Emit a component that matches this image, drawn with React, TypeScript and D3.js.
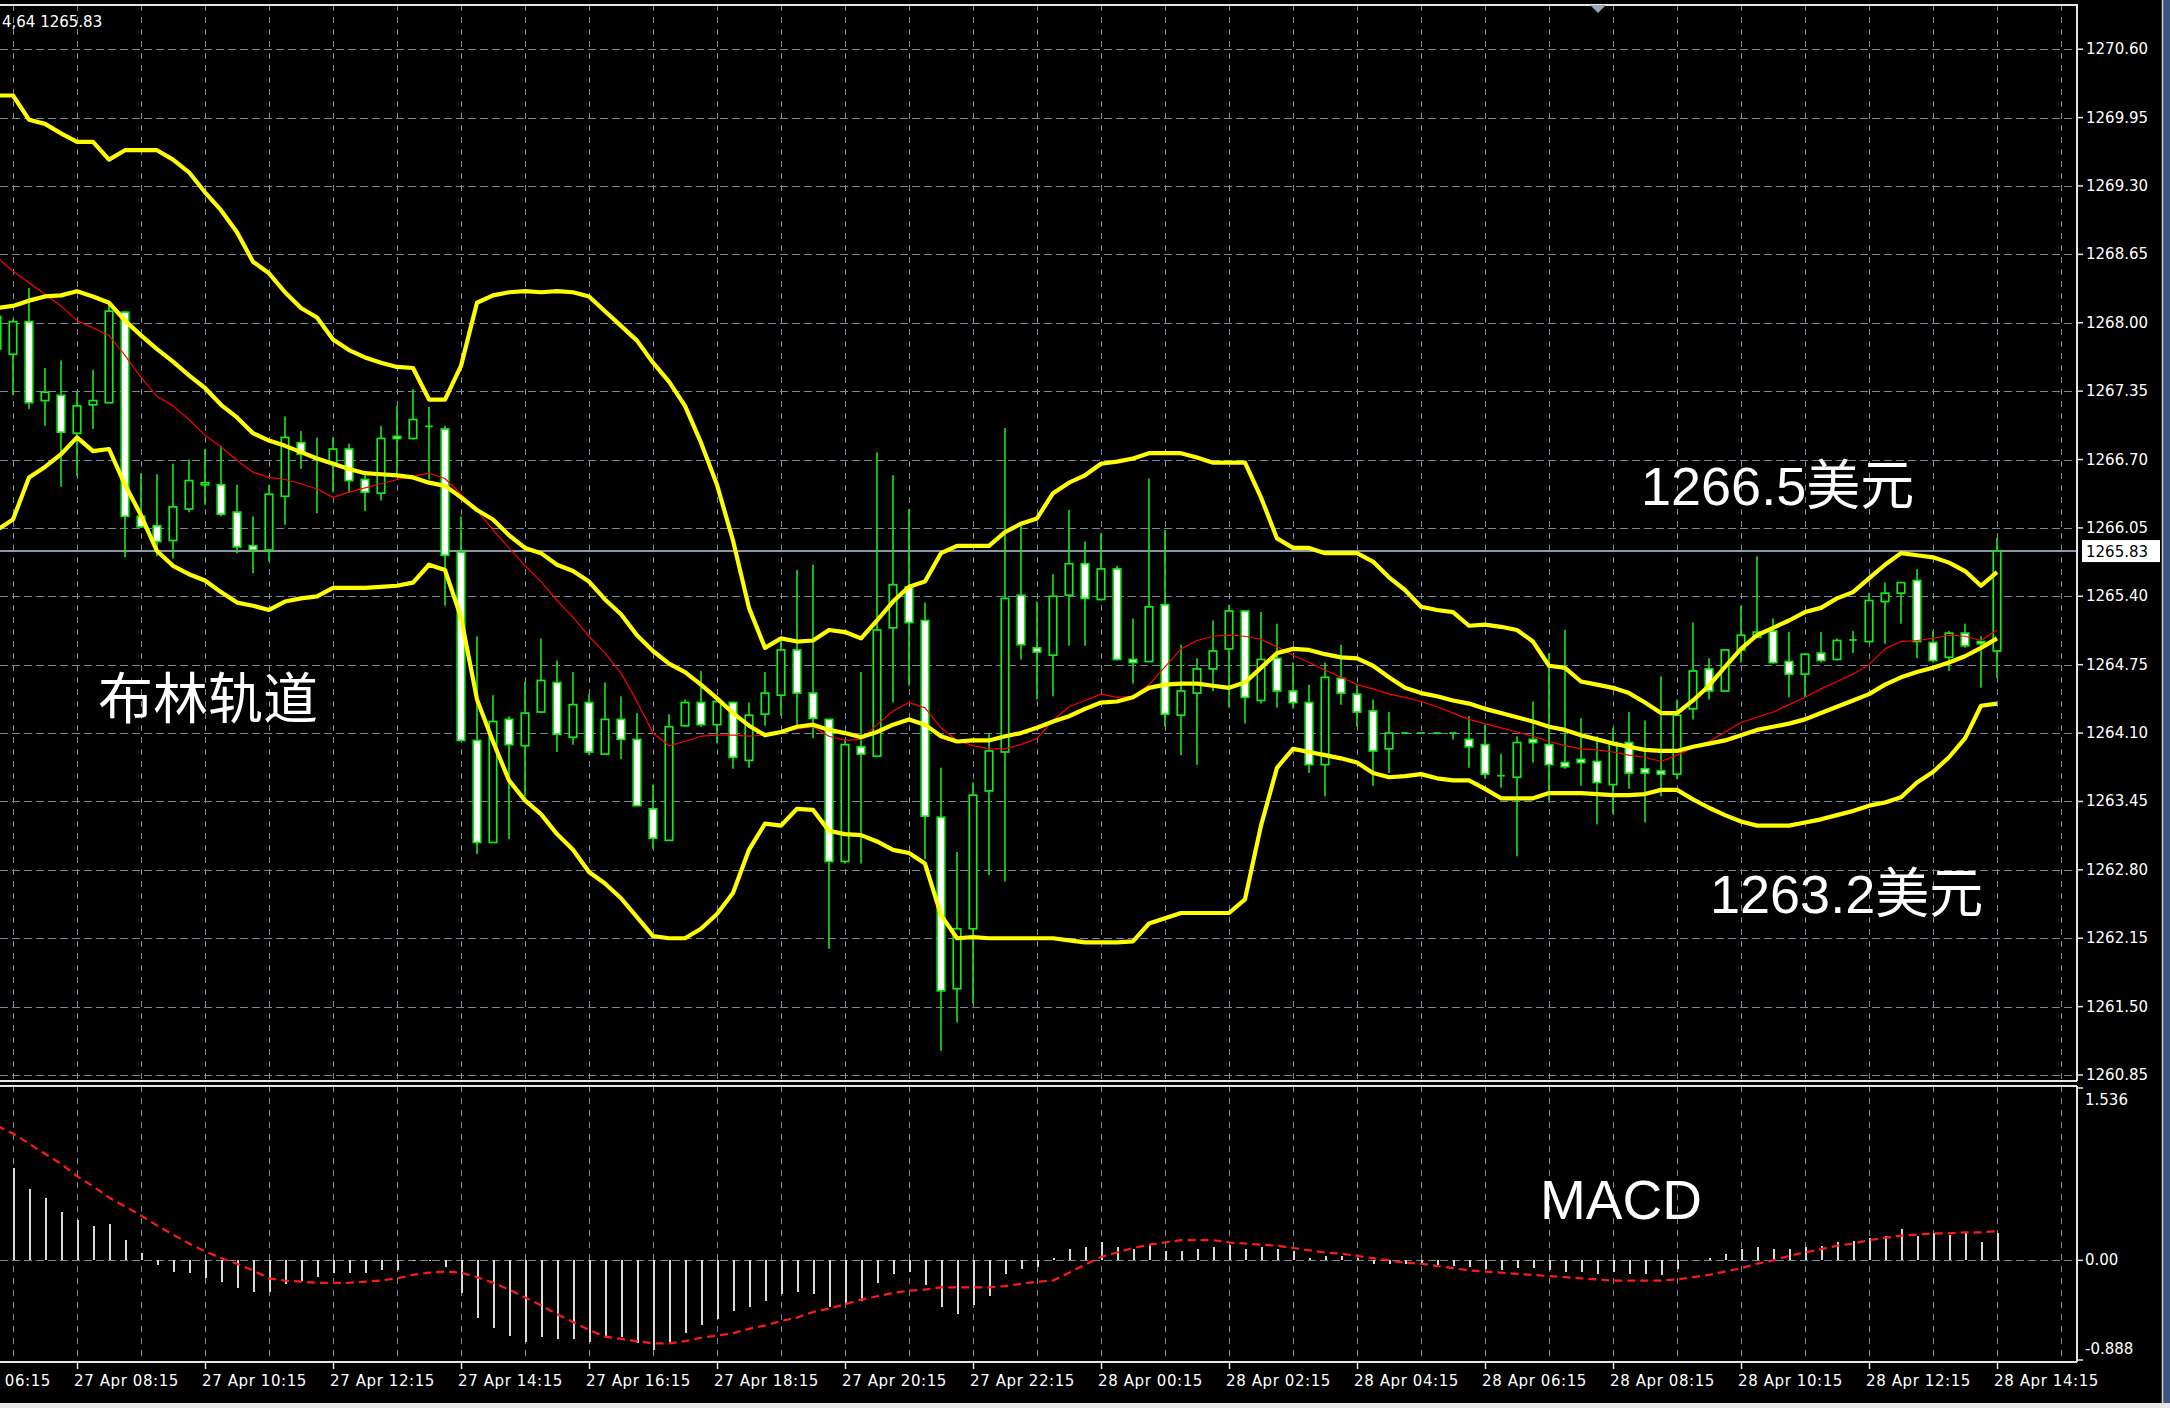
import React, { useEffect } from 'react';
import * as d3 from 'd3';

// ---------- DATA (XAUUSD M15, bars from index -5 .. 120; index 0 = 27 Apr 08:15) ----------
const FIRST_BAR = -5;

const opens = [
  1267.75, 1267.70, 1268.01, 1267.26, 1267.31, 1266.95, 1267.22, 1267.24, 1268.10, 1266.16,
  1266.07, 1265.93, 1266.23, 1266.46, 1266.46, 1266.20, 1265.88, 1265.84, 1266.35, 1266.86,
  1266.71, 1266.67, 1266.80, 1266.51, 1266.38, 1266.92, 1266.90, 1267.02, 1266.99, 1265.82,
  1264.03, 1263.06, 1264.23, 1263.98, 1264.30, 1264.58, 1264.06, 1264.39, 1263.90, 1264.23,
  1264.04, 1263.38, 1263.08, 1264.17, 1264.39, 1264.18, 1264.39, 1263.84, 1264.28, 1264.46,
  1264.89, 1264.48, 1264.23, 1262.88, 1263.97, 1263.88, 1265.10, 1265.49, 1265.17, 1263.30,
  1261.67, 1262.24, 1263.55, 1263.92, 1265.41, 1264.91, 1264.84, 1265.41, 1265.71, 1265.37,
  1265.66, 1264.80, 1264.78, 1265.32, 1264.27, 1264.48, 1264.71, 1264.90, 1265.26, 1264.41,
  1264.81, 1264.50, 1264.39, 1263.80, 1264.62, 1264.47, 1264.31, 1263.95, 1264.10, 1264.10,
  1264.10, 1264.10, 1264.04, 1263.99, 1263.70, 1263.68, 1264.04, 1263.99, 1263.82, 1263.85,
  1263.83, 1263.61, 1264.01, 1263.76, 1263.74, 1263.71, 1264.33, 1264.71, 1264.50, 1264.89,
  1265.01, 1265.07, 1264.78, 1264.66, 1264.86, 1264.80, 1264.98, 1264.97, 1265.35, 1265.43,
  1265.55, 1264.96, 1264.82, 1265.05, 1264.97, 1264.88,
];
const highs = [
  1268.16, 1268.03, 1268.33, 1267.57, 1267.64, 1267.34, 1267.55, 1268.21, 1268.11, 1266.57,
  1266.56, 1266.66, 1266.70, 1266.80, 1266.83, 1266.46, 1266.16, 1266.46, 1267.11, 1266.97,
  1266.91, 1266.91, 1266.85, 1266.59, 1267.02, 1267.21, 1267.37, 1267.20, 1267.02, 1266.16,
  1265.02, 1264.46, 1264.26, 1264.59, 1265.00, 1264.79, 1264.68, 1264.47, 1264.58, 1264.45,
  1264.29, 1263.61, 1264.28, 1264.42, 1264.69, 1264.42, 1264.40, 1264.39, 1264.68, 1264.98,
  1265.65, 1265.70, 1264.23, 1264.04, 1264.68, 1266.77, 1266.55, 1266.23, 1265.34, 1263.77,
  1262.97, 1263.63, 1264.10, 1267.00, 1266.07, 1265.35, 1265.61, 1266.22, 1265.92, 1266.00,
  1265.69, 1265.19, 1266.52, 1266.03, 1264.94, 1264.81, 1265.17, 1265.32, 1265.26, 1265.25,
  1265.14, 1264.77, 1264.56, 1264.77, 1264.94, 1264.56, 1264.42, 1264.30, 1264.10, 1264.10,
  1264.10, 1264.10, 1264.26, 1264.18, 1263.90, 1264.07, 1264.40, 1264.86, 1265.08, 1264.24,
  1264.07, 1264.15, 1264.30, 1264.22, 1264.64, 1264.42, 1265.15, 1264.81, 1264.89, 1265.31,
  1265.78, 1265.19, 1265.06, 1264.85, 1265.06, 1265.00, 1265.07, 1265.43, 1265.53, 1265.53,
  1265.66, 1265.07, 1265.07, 1265.14, 1265.02, 1265.96,
];
const lows = [
  1267.70, 1267.31, 1267.18, 1267.02, 1266.44, 1266.54, 1266.99, 1267.24, 1265.77, 1266.05,
  1265.78, 1265.76, 1266.20, 1266.27, 1266.16, 1265.81, 1265.62, 1265.73, 1266.08, 1266.61,
  1266.19, 1266.39, 1266.39, 1266.21, 1266.31, 1266.56, 1266.89, 1266.51, 1265.31, 1264.03,
  1262.95, 1263.06, 1263.09, 1263.50, 1264.29, 1263.92, 1263.99, 1263.89, 1263.90, 1263.85,
  1263.41, 1263.00, 1263.08, 1264.16, 1264.16, 1264.00, 1263.76, 1263.77, 1264.17, 1264.26,
  1264.18, 1264.05, 1262.05, 1262.86, 1262.86, 1263.87, 1264.39, 1264.55, 1262.90, 1261.08,
  1261.35, 1261.53, 1262.75, 1262.69, 1264.80, 1264.42, 1264.45, 1264.93, 1264.93, 1265.36,
  1264.79, 1264.57, 1264.78, 1264.16, 1263.89, 1263.80, 1264.50, 1264.34, 1264.19, 1264.38,
  1264.34, 1264.33, 1263.72, 1263.50, 1264.37, 1264.16, 1263.60, 1263.72, 1264.10, 1264.10,
  1264.10, 1264.04, 1263.77, 1263.67, 1263.58, 1262.93, 1263.82, 1263.46, 1263.76, 1263.60,
  1263.23, 1263.33, 1263.57, 1263.25, 1263.50, 1263.66, 1264.23, 1264.42, 1264.50, 1264.77,
  1265.01, 1264.76, 1264.44, 1264.44, 1264.77, 1264.79, 1264.86, 1264.97, 1264.95, 1265.14,
  1264.81, 1264.77, 1264.69, 1264.91, 1264.53, 1264.62,
];
const closes = [
  1268.06, 1268.01, 1267.24, 1267.34, 1266.96, 1267.21, 1267.26, 1268.11, 1266.16, 1266.06,
  1265.92, 1266.25, 1266.50, 1266.48, 1266.18, 1265.87, 1265.84, 1266.37, 1266.91, 1266.75,
  1266.70, 1266.80, 1266.50, 1266.39, 1266.90, 1266.90, 1267.08, 1267.01, 1265.79, 1264.03,
  1263.06, 1264.21, 1263.99, 1264.29, 1264.60, 1264.09, 1264.37, 1263.92, 1264.23, 1264.04,
  1263.41, 1263.10, 1264.16, 1264.39, 1264.18, 1264.40, 1263.87, 1264.27, 1264.48, 1264.89,
  1264.48, 1264.24, 1262.88, 1263.99, 1263.90, 1265.08, 1265.51, 1265.15, 1263.31, 1261.65,
  1262.24, 1263.51, 1263.93, 1265.38, 1264.94, 1264.87, 1265.40, 1265.71, 1265.38, 1265.66,
  1264.80, 1264.77, 1265.30, 1264.28, 1264.50, 1264.71, 1264.88, 1265.26, 1264.44, 1264.80,
  1264.50, 1264.39, 1263.80, 1264.63, 1264.48, 1264.30, 1263.93, 1264.10, 1264.10, 1264.10,
  1264.10, 1264.10, 1263.97, 1263.71, 1263.69, 1264.01, 1264.01, 1263.80, 1263.78, 1263.82,
  1263.63, 1264.01, 1263.72, 1263.72, 1263.71, 1264.27, 1264.69, 1264.50, 1264.89, 1265.03,
  1265.06, 1264.77, 1264.66, 1264.85, 1264.79, 1264.98, 1264.99, 1265.36, 1265.43, 1265.53,
  1264.97, 1264.79, 1265.05, 1264.93, 1264.95, 1265.83,
];

const bbUpper = [
  1270.16, 1270.16, 1269.93, 1269.89, 1269.80, 1269.72, 1269.72, 1269.55, 1269.64, 1269.64,
  1269.64, 1269.55, 1269.43, 1269.24, 1269.07, 1268.86, 1268.58, 1268.47, 1268.29, 1268.14,
  1268.05, 1267.84, 1267.74, 1267.67, 1267.62, 1267.58, 1267.57, 1267.27, 1267.27, 1267.59,
  1268.19, 1268.26, 1268.29, 1268.30, 1268.29, 1268.30, 1268.29, 1268.25, 1268.11, 1267.97,
  1267.83, 1267.62, 1267.44, 1267.21, 1266.86, 1266.46, 1265.93, 1265.29, 1264.91, 1265.00,
  1264.97, 1264.98, 1265.08, 1265.06, 1265.00, 1265.17, 1265.35, 1265.49, 1265.54, 1265.81,
  1265.88, 1265.88, 1265.88, 1266.01, 1266.09, 1266.14, 1266.38, 1266.48, 1266.55, 1266.66,
  1266.68, 1266.71, 1266.76, 1266.76, 1266.76, 1266.72, 1266.67, 1266.67, 1266.67, 1266.34,
  1265.95, 1265.86, 1265.86, 1265.81, 1265.81, 1265.81, 1265.73, 1265.58, 1265.46, 1265.30,
  1265.27, 1265.25, 1265.12, 1265.13, 1265.11, 1265.08, 1264.97, 1264.74, 1264.72, 1264.59,
  1264.56, 1264.53, 1264.48, 1264.39, 1264.29, 1264.29, 1264.41, 1264.55, 1264.73, 1264.90,
  1265.03, 1265.10, 1265.17, 1265.25, 1265.29, 1265.38, 1265.44, 1265.57, 1265.70, 1265.81,
  1265.79, 1265.77, 1265.72, 1265.64, 1265.50, 1265.63,
];
const bbMiddle = [
  1268.14, 1268.16, 1268.21, 1268.25, 1268.26, 1268.30, 1268.25, 1268.19, 1268.02, 1267.88,
  1267.75, 1267.63, 1267.50, 1267.38, 1267.22, 1267.10, 1266.95, 1266.88, 1266.83, 1266.77,
  1266.71, 1266.66, 1266.61, 1266.57, 1266.56, 1266.55, 1266.53, 1266.48, 1266.45, 1266.34,
  1266.22, 1266.13, 1265.98, 1265.86, 1265.81, 1265.70, 1265.64, 1265.54, 1265.37, 1265.23,
  1265.03, 1264.88, 1264.76, 1264.68, 1264.56, 1264.43, 1264.29, 1264.17, 1264.08, 1264.11,
  1264.16, 1264.18, 1264.13, 1264.10, 1264.06, 1264.11, 1264.18, 1264.23, 1264.18, 1264.07,
  1264.02, 1264.03, 1264.03, 1264.07, 1264.10, 1264.15, 1264.21, 1264.26, 1264.33, 1264.39,
  1264.40, 1264.44, 1264.53, 1264.56, 1264.57, 1264.57, 1264.55, 1264.53, 1264.58, 1264.72,
  1264.86, 1264.90, 1264.89, 1264.85, 1264.82, 1264.81, 1264.74, 1264.63, 1264.53, 1264.48,
  1264.45, 1264.41, 1264.38, 1264.33, 1264.29, 1264.25, 1264.21, 1264.16, 1264.13, 1264.08,
  1264.04, 1264.00, 1263.97, 1263.94, 1263.93, 1263.93, 1263.97, 1264.00, 1264.03, 1264.08,
  1264.13, 1264.16, 1264.19, 1264.23, 1264.29, 1264.35, 1264.41, 1264.47, 1264.56, 1264.63,
  1264.68, 1264.72, 1264.77, 1264.83, 1264.91, 1265.00,
];
const bbLower = [
  1266.03, 1266.13, 1266.53, 1266.63, 1266.75, 1266.91, 1266.78, 1266.80, 1266.46, 1266.17,
  1265.83, 1265.69, 1265.61, 1265.55, 1265.44, 1265.34, 1265.31, 1265.27, 1265.35, 1265.38,
  1265.40, 1265.48, 1265.48, 1265.48, 1265.49, 1265.50, 1265.53, 1265.70, 1265.65, 1265.20,
  1264.42, 1264.02, 1263.65, 1263.46, 1263.33, 1263.14, 1262.99, 1262.78, 1262.67, 1262.53,
  1262.35, 1262.17, 1262.15, 1262.15, 1262.24, 1262.38, 1262.58, 1262.99, 1263.24, 1263.22,
  1263.38, 1263.37, 1263.17, 1263.14, 1263.13, 1263.07, 1262.99, 1262.96, 1262.86, 1262.37,
  1262.15, 1262.16, 1262.15, 1262.15, 1262.15, 1262.15, 1262.15, 1262.13, 1262.11, 1262.11,
  1262.11, 1262.12, 1262.29, 1262.34, 1262.39, 1262.39, 1262.39, 1262.39, 1262.52, 1263.22,
  1263.77, 1263.95, 1263.92, 1263.89, 1263.86, 1263.82, 1263.72, 1263.68, 1263.69, 1263.71,
  1263.67, 1263.65, 1263.65, 1263.57, 1263.48, 1263.48, 1263.48, 1263.53, 1263.53, 1263.53,
  1263.52, 1263.51, 1263.51, 1263.52, 1263.56, 1263.56, 1263.47, 1263.39, 1263.32, 1263.26,
  1263.22, 1263.22, 1263.22, 1263.25, 1263.28, 1263.32, 1263.36, 1263.41, 1263.44, 1263.49,
  1263.63, 1263.73, 1263.87, 1264.05, 1264.36, 1264.38,
];
const maRed = [
  1268.62, 1268.49, 1268.38, 1268.27, 1268.16, 1268.02, 1267.95, 1267.88, 1267.69, 1267.48,
  1267.30, 1267.21, 1267.08, 1266.93, 1266.82, 1266.69, 1266.58, 1266.53, 1266.51, 1266.47,
  1266.42, 1266.34, 1266.39, 1266.43, 1266.47, 1266.51, 1266.54, 1266.57, 1266.52, 1266.37,
  1266.22, 1266.03, 1265.86, 1265.69, 1265.54, 1265.36, 1265.20, 1265.02, 1264.86, 1264.67,
  1264.40, 1264.10, 1263.98, 1264.02, 1264.07, 1264.08, 1264.08, 1264.07, 1264.08, 1264.11,
  1264.14, 1264.16, 1264.07, 1264.03, 1264.04, 1264.18, 1264.31, 1264.39, 1264.34, 1264.15,
  1264.03, 1263.98, 1263.95, 1263.95, 1263.99, 1264.05, 1264.22, 1264.35, 1264.41, 1264.47,
  1264.44, 1264.45, 1264.56, 1264.73, 1264.90, 1264.98, 1265.02, 1265.03, 1265.02, 1264.99,
  1264.92, 1264.84, 1264.77, 1264.70, 1264.63, 1264.56, 1264.52, 1264.47, 1264.44, 1264.40,
  1264.35, 1264.29, 1264.23, 1264.19, 1264.15, 1264.11, 1264.07, 1264.02, 1263.98, 1263.95,
  1263.94, 1263.92, 1263.89, 1263.87, 1263.83, 1263.89, 1263.96, 1264.02, 1264.11, 1264.20,
  1264.25, 1264.30, 1264.37, 1264.44, 1264.52, 1264.59, 1264.66, 1264.75, 1264.90, 1264.97,
  1264.98, 1265.00, 1265.03, 1265.02, 1264.98, 1265.08,
];
const macdHist = [
  0.88, 0.82, 0.64, 0.56, 0.43, 0.36, 0.31, 0.32, 0.18, 0.07,
  -0.04, -0.10, -0.11, -0.16, -0.19, -0.25, -0.28, -0.28, -0.21, -0.18,
  -0.15, -0.11, -0.11, -0.11, -0.09, -0.09, -0.01, -0.01, -0.06, -0.29,
  -0.51, -0.60, -0.67, -0.73, -0.68, -0.70, -0.70, -0.73, -0.68, -0.68,
  -0.74, -0.80, -0.73, -0.65, -0.58, -0.52, -0.45, -0.42, -0.36, -0.30,
  -0.28, -0.30, -0.42, -0.38, -0.36, -0.20, -0.12, -0.10, -0.22, -0.42,
  -0.48, -0.40, -0.32, -0.12, -0.08, -0.06, 0.02, 0.10, 0.12, 0.16,
  0.12, 0.10, 0.14, 0.08, 0.08, 0.10, 0.12, 0.14, 0.10, 0.12,
  0.10, 0.08, 0.02, 0.04, 0.04, 0.02, -0.03, -0.03, -0.03, -0.04,
  -0.04, -0.05, -0.06, -0.08, -0.09, -0.07, -0.07, -0.09, -0.10, -0.10,
  -0.12, -0.10, -0.12, -0.12, -0.13, -0.08, 0.00, 0.02, 0.06, 0.10,
  0.12, 0.10, 0.10, 0.12, 0.13, 0.16, 0.17, 0.20, 0.22, 0.28,
  0.22, 0.24, 0.23, 0.25, 0.16, 0.24,
];
const macdSignal = [
  1.20, 1.13, 1.04, 0.95, 0.86, 0.75, 0.66, 0.56, 0.48, 0.40,
  0.31, 0.23, 0.15, 0.08, 0.02, -0.03, -0.09, -0.16, -0.18, -0.19,
  -0.20, -0.20, -0.20, -0.19, -0.18, -0.16, -0.13, -0.11, -0.10, -0.11,
  -0.15, -0.20, -0.26, -0.33, -0.40, -0.48, -0.55, -0.62, -0.68, -0.70,
  -0.72, -0.74, -0.74, -0.72, -0.69, -0.67, -0.65, -0.61, -0.58, -0.54,
  -0.51, -0.46, -0.43, -0.39, -0.35, -0.32, -0.29, -0.27, -0.26, -0.24,
  -0.24, -0.24, -0.24, -0.23, -0.21, -0.19, -0.18, -0.11, -0.04, 0.03,
  0.07, 0.11, 0.14, 0.16, 0.18, 0.18, 0.18, 0.16, 0.15, 0.14,
  0.13, 0.11, 0.09, 0.07, 0.06, 0.04, 0.02, 0.00, -0.02, -0.03,
  -0.05, -0.07, -0.09, -0.10, -0.11, -0.12, -0.13, -0.14, -0.15, -0.16,
  -0.17, -0.18, -0.18, -0.18, -0.18, -0.17, -0.15, -0.13, -0.10, -0.07,
  -0.03, 0.00, 0.04, 0.07, 0.10, 0.13, 0.15, 0.18, 0.20, 0.22,
  0.23, 0.24, 0.24, 0.25, 0.25, 0.26,
];

const priceTicks = [1270.60, 1269.95, 1269.30, 1268.65, 1268.00, 1267.35, 1266.70, 1266.05,
  1265.40, 1264.75, 1264.10, 1263.45, 1262.80, 1262.15, 1261.50, 1260.85];
const macdTicks = [1.536, 0, -0.888];
const macdTickLabels = ['1.536', '0.00', '-0.888'];
const timeLabels = ['27 Apr 06:15', '27 Apr 08:15', '27 Apr 10:15', '27 Apr 12:15', '27 Apr 14:15',
  '27 Apr 16:15', '27 Apr 18:15', '27 Apr 20:15', '27 Apr 22:15', '28 Apr 00:15', '28 Apr 02:15',
  '28 Apr 04:15', '28 Apr 06:15', '28 Apr 08:15', '28 Apr 10:15', '28 Apr 12:15', '28 Apr 14:15'];
const timeLabelBars = [-8, 0, 8, 16, 24, 32, 40, 48, 56, 64, 72, 80, 88, 96, 104, 112, 120];
const lastPrice = 1265.83;
const headerText = '4,64 1265.83';
const annoBoll = '布林轨道';
const annoUpper = '1266.5美元';
const annoLower = '1263.2美元';
const annoMacd = 'MACD';

// ---------- STYLE / LAYOUT ----------
const W = 2170, H = 1408;
const PR = 2077;          // right edge of plot panels
const MAIN_TOP = 4.5, MAIN_BOT = 1080.5;
const MACD_TOP = 1085.5, MACD_BOT = 1362;
const GRID = '#778899';
const GREEN = '#16ea16';
const YELLOW = '#ffff00';
const AXIS_FONT = '"DejaVu Sans", Verdana, sans-serif';
const ANNO_FONT = '"Liberation Sans", Arial, "Noto Sans CJK SC", sans-serif';

export default function App() {
  useEffect(() => {
    document.body.style.margin = '0';
    document.body.style.background = '#000';
  }, []);

  const n = opens.length;
  const lastBar = FIRST_BAR + n - 1;
  const idx = d3.range(n);
  const x = d3.scaleLinear().domain([FIRST_BAR, lastBar]).range([-3, 1997]);
  const y = d3.scaleLinear().domain([1260.85, 1270.60]).range([1075, 49.2]);
  const ym = d3.scaleLinear().domain([-0.888, 1.536]).range([1360, 1088]);
  const bx = (k: number) => x(FIRST_BAR + k);

  const line = (arr: number[]) =>
    d3.line<number>().x((_, k) => bx(k)).y((v) => y(v)).curve(d3.curveLinear)(arr) || '';
  const sigLine = d3.line<number>().x((_, k) => bx(k)).y((v) => ym(v))(macdSignal) || '';

  const gridBars = d3.range(-4, 128, 4).filter((b) => x(b) < PR);
  const bodyW = 7.5;

  return (
    <svg width={W} height={H} viewBox={`0 0 ${W} ${H}`}
      style={{ position: 'absolute', left: 0, top: 0, display: 'block', background: '#000' }}>
      <defs>
        <clipPath id="clipMain"><rect x={0} y={MAIN_TOP} width={PR} height={MAIN_BOT - MAIN_TOP} /></clipPath>
        <clipPath id="clipMacd"><rect x={0} y={MACD_TOP} width={PR} height={MACD_BOT - MACD_TOP} /></clipPath>
      </defs>
      <rect x={0} y={0} width={W} height={H} fill="#000" />
      {/* desktop strips outside terminal window */}
      <rect x={2163} y={0} width={W - 2163} height={H} fill="#3b5680" />
      <rect x={0} y={1403} width={W} height={H - 1403} fill="#e8e8e8" />
      <line x1={2162.5} y1={0} x2={2162.5} y2={1403} stroke="#cfcfcf" strokeWidth={1.5} />

      {/* ---------- main panel grid ---------- */}
      <g clipPath="url(#clipMain)" shapeRendering="crispEdges">
        {priceTicks.map((p) => (
          <line key={'h' + p} x1={0} x2={PR} y1={Math.round(y(p)) + 0.5} y2={Math.round(y(p)) + 0.5}
            stroke={GRID} strokeWidth={1.5} strokeDasharray="8,4" />
        ))}
        {gridBars.map((b) => (
          <line key={'v' + b} x1={Math.round(x(b)) + 0.5} x2={Math.round(x(b)) + 0.5} y1={MAIN_TOP} y2={MAIN_BOT}
            stroke={GRID} strokeWidth={1.5} strokeDasharray="6,6" />
        ))}
        {/* current price line */}
        <line x1={0} x2={PR} y1={y(lastPrice)} y2={y(lastPrice)} stroke="#8a98a8" strokeWidth={1.5} />
      </g>

      {/* ---------- candles ---------- */}
      <g clipPath="url(#clipMain)">
        {idx.map((k) => {
          const cx = bx(k);
          return (
            <line key={'w' + k} x1={cx} x2={cx} y1={y(highs[k])} y2={y(lows[k])} stroke={GREEN} strokeWidth={1.6} />
          );
        })}
        {idx.map((k) => {
          const cx = bx(k);
          const o = opens[k], c = closes[k];
          const top = y(Math.max(o, c));
          const bot = y(Math.min(o, c));
          if (bot - top < 1.5) {
            return (
              <line key={'b' + k} x1={cx - bodyW / 2} x2={cx + bodyW / 2} y1={(top + bot) / 2} y2={(top + bot) / 2}
                stroke={GREEN} strokeWidth={1.8} />
            );
          }
          return (
            <rect key={'b' + k} x={cx - bodyW / 2} y={top} width={bodyW} height={bot - top}
              fill={c < o ? '#ffffff' : '#000000'} stroke={GREEN} strokeWidth={1.7} />
          );
        })}
      </g>

      {/* ---------- indicators ---------- */}
      <g clipPath="url(#clipMain)" fill="none" strokeLinejoin="round">
        <path d={line(maRed)} stroke="#ff0000" strokeWidth={1.2} />
        <path d={line(bbUpper)} stroke={YELLOW} strokeWidth={4.2} />
        <path d={line(bbMiddle)} stroke={YELLOW} strokeWidth={4.2} />
        <path d={line(bbLower)} stroke={YELLOW} strokeWidth={4.2} />
      </g>

      {/* ---------- MACD panel ---------- */}
      <g clipPath="url(#clipMacd)" shapeRendering="crispEdges">
        {gridBars.map((b) => (
          <line key={'mv' + b} x1={Math.round(x(b)) + 0.5} x2={Math.round(x(b)) + 0.5} y1={MACD_TOP} y2={MACD_BOT}
            stroke={GRID} strokeWidth={1.5} strokeDasharray="6,6" />
        ))}
        <line x1={0} x2={PR} y1={Math.round(ym(0)) + 0.5} y2={Math.round(ym(0)) + 0.5}
          stroke={GRID} strokeWidth={1.5} strokeDasharray="8,4" />
        {idx.map((k) => (
          <line key={'mh' + k} x1={Math.round(bx(k)) + 0.5} x2={Math.round(bx(k)) + 0.5}
            y1={ym(0)} y2={ym(macdHist[k])} stroke="#d8d8d8" strokeWidth={2} />
        ))}
      </g>
      <g clipPath="url(#clipMacd)">
        <path d={sigLine} fill="none" stroke="#ff1a1a" strokeWidth={2.2} strokeDasharray="8,5" />
      </g>

      {/* ---------- frames ---------- */}
      <g stroke="#e6e6e6" strokeWidth={2} fill="none" shapeRendering="crispEdges">
        <line x1={0} x2={PR} y1={MAIN_TOP} y2={MAIN_TOP} />
        <line x1={PR} x2={PR} y1={MAIN_TOP - 1} y2={MAIN_BOT} />
        <line x1={0} x2={PR} y1={MAIN_BOT} y2={MAIN_BOT} />
        <line x1={0} x2={PR} y1={MACD_TOP} y2={MACD_TOP} />
        <line x1={PR} x2={PR} y1={MACD_TOP} y2={MACD_BOT} />
        <line x1={0} x2={PR} y1={MACD_BOT} y2={MACD_BOT} />
      </g>

      {/* ---------- price axis ---------- */}
      <g fontFamily={AXIS_FONT} fontSize={15} fill="#ffffff">
        {priceTicks.map((p) => (
          <g key={'pt' + p}>
            <line x1={PR} x2={PR + 6} y1={y(p)} y2={y(p)} stroke="#e6e6e6" strokeWidth={1.5} />
            <text x={PR + 9} y={y(p)} dominantBaseline="central">{p.toFixed(2)}</text>
          </g>
        ))}
        <rect x={PR + 5} y={y(lastPrice) - 11} width={78} height={22} fill="#ffffff" />
        <text x={PR + 9} y={y(lastPrice) + 1} dominantBaseline="central" fill="#000000">{lastPrice.toFixed(2)}</text>
        {macdTicks.map((v, k) => (
          <g key={'mt' + k}>
            <line x1={PR} x2={PR + 6} y1={ym(v)} y2={ym(v)} stroke="#e6e6e6" strokeWidth={1.5} />
            <text x={PR + 8} y={k === 0 ? ym(v) + 12 : k === 2 ? ym(v) - 11 : ym(v)} dominantBaseline="central">
              {macdTickLabels[k]}
            </text>
          </g>
        ))}
      </g>

      {/* ---------- time axis ---------- */}
      <g fontFamily={AXIS_FONT} fontSize={15} fill="#ffffff">
        {timeLabelBars.map((b, k) => (
          <g key={'tl' + k}>
            <line x1={Math.round(x(b)) + 0.5} x2={Math.round(x(b)) + 0.5} y1={MACD_BOT} y2={MACD_BOT + 7}
              stroke="#e6e6e6" strokeWidth={1.5} />
            <text x={x(b) - 3} y={1381} dominantBaseline="central" letterSpacing={0.6}>{timeLabels[k]}</text>
          </g>
        ))}
      </g>

      {/* header text + chart shift marker */}
      <text x={2} y={22} fontFamily={AXIS_FONT} fontSize={15} fill="#ffffff" dominantBaseline="central">{headerText}</text>
      <polygon points="1590,5 1606,5 1598,13" fill="#9aa6b4" />

      {/* ---------- annotations ---------- */}
      <g fill="#ffffff" fontFamily={ANNO_FONT}>
        <text x={98} y={718} fontSize={55} fontFamily='"Noto Sans CJK SC", sans-serif'>{annoBoll}</text>
        <text x={1641} y={505} fontSize={54}>{annoUpper}</text>
        <text x={1710} y={913} fontSize={54}>{annoLower}</text>
        <text x={1540} y={1219} fontSize={55}>{annoMacd}</text>
      </g>
    </svg>
  );
}
